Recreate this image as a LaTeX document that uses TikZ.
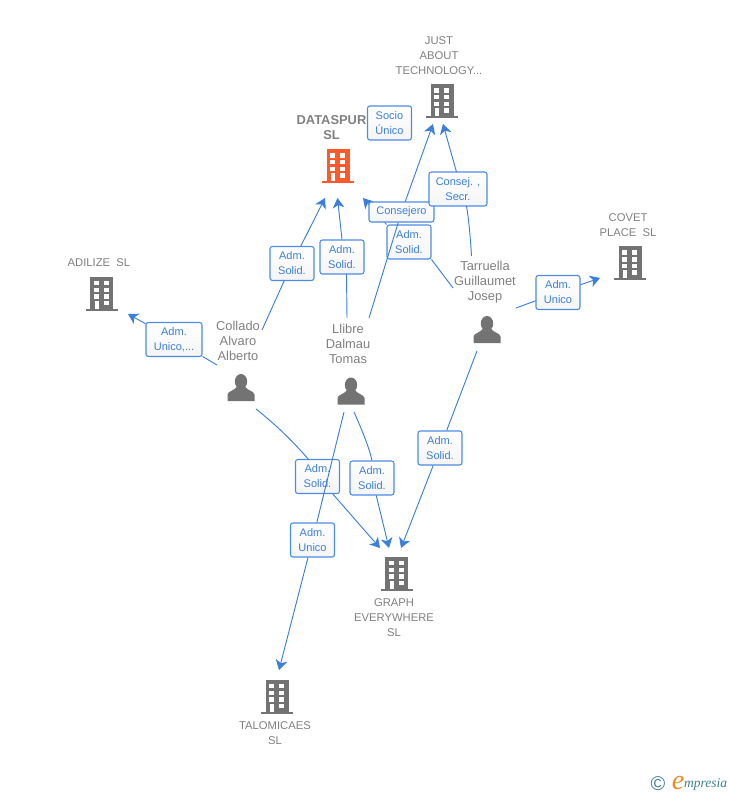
\documentclass[tikz,border=0pt]{standalone}
\usepackage{fontspec}
\setmainfont{Liberation Sans}
\newfontfamily\logofont{Liberation Serif}
\usetikzlibrary{arrows.meta}
\definecolor{linkblue}{HTML}{3B7FDD}
\definecolor{boxblue}{HTML}{4A8CE6}
\definecolor{icongray}{HTML}{737373}
\definecolor{textgray}{HTML}{808080}
\definecolor{spurred}{HTML}{FF5A2B}
\definecolor{logoteal}{HTML}{3F7F93}
\definecolor{logoorange}{HTML}{F08A1D}
\begin{document}
\begin{tikzpicture}[
  x=0.03cm, y=-0.03cm,
  link/.style={linkblue, line width=0.8pt},
  linkto/.style={link, -{Stealth[length=8.5pt, width=10pt, inset=2.5pt]}},
  role/.style={draw=boxblue, line width=0.9pt, rounded corners=2pt, top color=white, bottom color=black!4,
    text=linkblue, align=center, inner sep=0pt, minimum width=1.32cm, minimum height=1.02cm,
    font=\fontsize{9.4}{12.8}\selectfont},
  company/.style={textgray, align=center, inner sep=0pt, font=\fontsize{9.6}{12.8}\selectfont},
  person/.style={textgray, align=center, inner sep=0pt, font=\fontsize{11}{12.8}\selectfont},
  icon/.style={inner sep=0pt, minimum width=0.9cm, minimum height=1cm},
  pics/building/.style={code={
    \fill[#1] (-11.5,-17) rectangle (11.5,15);
    \fill[#1] (-16,15) rectangle (16,17);
    \foreach \wy in {-12.7,-6,0.7} {
      \fill[white] (-8,\wy) rectangle (-2.8,\wy+4.5);
      \fill[white] (2.2,\wy) rectangle (7.4,\wy+4.5);
    }
    \fill[white] (2.2,7.3) rectangle (7.4,11.8);
    \fill[white] (-7,7.3) rectangle (-2.8,15);
  }},
  pics/man/.style={code={
    \fill[icongray] (0,-6) ellipse [x radius=6.2, y radius=7.5];
    \fill[icongray] (-13.5,13.5) -- (-13.5,7) .. controls (-13,3.5) and (-6,3) .. (-4,-1) -- (4,-1)
      .. controls (6,3) and (13,3.5) .. (13.5,7) -- (13.5,13.5) -- cycle;
  }}
]
\useasboundingbox (0,0) rectangle (728,795);

% Free ends of the connectors
\foreach \name/\x/\y in {
  colladoA/217/365, colladoB/262/330, colladoC/256/409,
  llibreA/347/318, llibreB/369/318, llibreC/354/412, llibreD/344/412,
  tarruellaA/453/288, tarruellaB/471.5/256, tarruellaC/516/308, tarruellaD/477/351,
  adilizeIn/128/314, spurA/325/198, spurB/337.5/198, spurC/363/198,
  justA/433/124, justB/443/124, covetIn/600/278,
  graphA/380/548, graphB/389/548, graphC/401/548, talomicaesIn/279/670}
  \coordinate (\name) at (\x,\y);

% Role boxes and connectors (order matters, some lines run over boxes)
\node[role, minimum width=1.68cm] (unicoAdilize) at (174,339.5) {Adm.\\Unico,...};
\draw[link] (colladoA) -- (unicoAdilize);
\draw[linkto] (unicoAdilize) -- (adilizeIn);

\node[role] (solidSpurA) at (292,263.5) {Adm.\\Solid.};
\draw[link] (colladoB) -- (solidSpurA);
\draw[linkto] (solidSpurA) -- (spurA);

\node[role] (solidSpurB) at (342,257) {Adm.\\Solid.};
\draw[link] (llibreA) -- (346.5,274);
\draw[linkto] (solidSpurB.north) -- (spurB);

\node[role] (solidSpurC) at (409,242) {Adm.\\Solid.};
\draw[link] (tarruellaA) -- (solidSpurC.south east);
\draw[linkto] (solidSpurC.north west) -- (spurC);

\node[role, minimum width=1.95cm, minimum height=0.6cm] (consejero) at (401.5,212) {Consejero};
\draw[link] (llibreB) -- (consejero);
\draw[linkto] (consejero) -- (justA);

\node[role, minimum width=1.74cm] (consejSecr) at (458,189) {Consej. ,\\Secr.};
\draw[link] (tarruellaB) .. controls (470,232) and (468.5,218) .. (466.5,206);
\draw[linkto] (456.5,172) -- (justB);

\node[role] (socioUnico) at (389.5,123) {Socio\\Único};

\node[role] (unicoCovet) at (558,292.5) {Adm.\\Unico};
\draw[link] (tarruellaC) -- (unicoCovet);
\draw[linkto] (unicoCovet) -- (covetIn);

\node[role] (solidGraphC) at (440,448) {Adm.\\Solid.};
\draw[link] (tarruellaD) -- (solidGraphC);
\draw[linkto] (solidGraphC) -- (graphC);

\draw[link] (colladoC) .. controls (280,428) and (297,446) .. (309,460);
\node[role] (solidGraphA) at (317.5,476.5) {Adm.\\Solid.};
\draw[linkto] (solidGraphA) -- (graphA);

\node[role] (solidGraphB) at (372,478) {Adm.\\Solid.};
\draw[link] (llibreC) .. controls (362,430) and (369,447) .. (solidGraphB.north);
\draw[linkto] (solidGraphB) -- (graphB);

\node[role] (unicoTalomicaes) at (312.5,540) {Adm.\\Unico};
\draw[link] (llibreD) -- (unicoTalomicaes);
\draw[linkto] (unicoTalomicaes) -- (talomicaesIn);

% Buildings
\foreach \name/\x/\y/\col in {adilize/101.5/293.5/icongray, covet/630/263/icongray,
  just/442/101/icongray, dataspur/338/166/spurred, graph/396.5/573.5/icongray, talomicaes/277/696.5/icongray} {
  \node[icon] (\name) at (\x,\y) {};
  \pic at (\name) {building=\col};
}

% People
\foreach \name/\x/\y in {collado/241/387.5, llibre/351/391, tarruella/487/329.5} {
  \node[icon] (\name) at (\x,\y) {};
  \pic at (\name) {man};
}

% Labels
\node[company] (adilizeName) at (99,263) {ADILIZE\ \ SL};
\node[company] (covetName) at (628,225.5) {COVET\\PLACE\ \ SL};
\node[company] (justName) at (439,56) {JUST\\ABOUT\\TECHNOLOGY...};
\node[company, font=\fontsize{11}{12.8}\selectfont\bfseries] (dataspurName) at (331.5,128) {DATASPUR\\SL};
\node[company] (graphName) at (394,618) {GRAPH\\EVERYWHERE\\SL};
\node[company] (talomicaesName) at (275,733.5) {TALOMICAES\\SL};
\node[person] (colladoName) at (238,340.5) {Collado\\Alvaro\\Alberto};
\node[person] (llibreName) at (348,343.5) {Llibre\\Dalmau\\Tomas};
\node[person] (tarruellaName) at (485,282.5) {Tarruella\\Guillaumet\\Josep};

% Logo
\node[inner sep=0pt, text=logoteal, font=\fontsize{17}{17}\selectfont] (logoMark) at (658,784) {©};
\node[inner sep=0pt, text=logoorange, font=\logofont\itshape\fontsize{24}{24}\selectfont] (logoE) at (678,783) {e};
\node[inner sep=0pt, anchor=west, text=logoteal, font=\logofont\itshape\fontsize{11.5}{11.5}\selectfont] (logoName) at (684,784) {mpresia};

\end{tikzpicture}
\end{document}
